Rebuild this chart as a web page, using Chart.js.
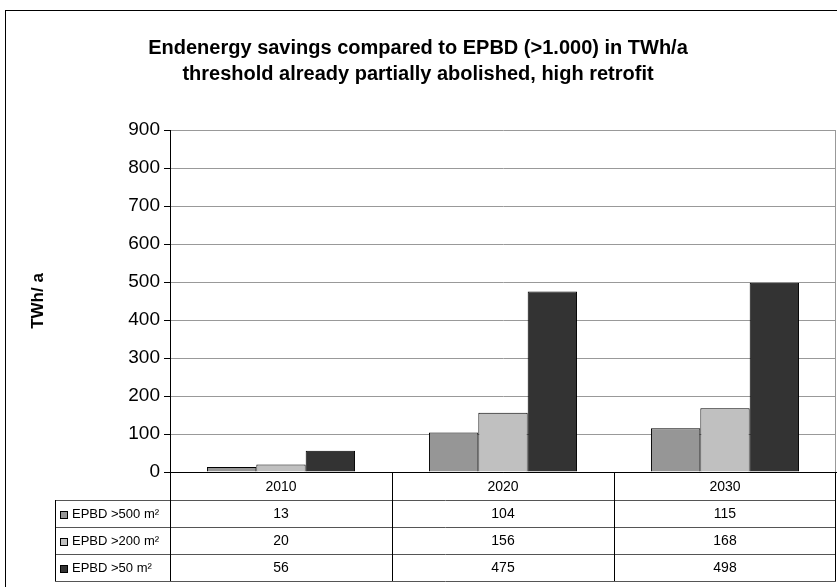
<!DOCTYPE html>
<html>
<head>
<meta charset="utf-8">
<script src="https://cdn.jsdelivr.net/npm/chart.js@4.4.1/dist/chart.umd.min.js"></script>
<style>
body { margin: 0; background: #fff; }
canvas { display: block; }
</style>
</head>
<body>
<canvas id="myChart" width="837" height="587"></canvas>
<script>
// Chart data
const categories = ['2010', '2020', '2030'];
const seriesLabels = ['EPBD >500 m²', 'EPBD >200 m²', 'EPBD >50 m²'];
const epbd500 = [13, 104, 115];
const epbd200 = [20, 156, 168];
const epbd50 = [56, 475, 498];
const seriesColors = ['#969696', '#c0c0c0', '#333333'];
const yMax = 900;
const yStep = 100;
const titleLines = [
    'Endenergy savings compared to EPBD (>1.000) in TWh/a',
    'threshold already partially abolished, high retrofit'
];

const seriesData = [epbd500, epbd200, epbd50];
const fontFamily = "'Liberation Sans', Arial, sans-serif";

// White background and outer frame
const framePlugin = {
    id: 'frame',
    beforeDraw(chart) {
        const ctx = chart.ctx;
        ctx.save();
        ctx.fillStyle = '#fff';
        ctx.fillRect(0, 0, chart.width, chart.height);
        ctx.strokeStyle = '#000';
        ctx.lineWidth = 1;
        ctx.strokeRect(5.5, 10.5, chart.width + 20, chart.height + 20);
        ctx.restore();
    }
};

// Data table under the plot, like the Excel one
const tablePlugin = {
    id: 'dataTable',
    afterDraw(chart) {
        const ctx = chart.ctx;
        const ca = chart.chartArea;
        const x = chart.scales.x;
        const colW = (ca.right - ca.left) / categories.length;
        const top = ca.bottom;
        const catH = 28;
        const rowH = 27;
        const legendLeft = 55;
        const bottom = top + catH + rowH * seriesData.length;

        function line(x1, y1, x2, y2) {
            ctx.beginPath();
            ctx.moveTo(x1, y1);
            ctx.lineTo(x2, y2);
            ctx.stroke();
        }

        ctx.save();
        ctx.lineWidth = 1;

        // plot area right border
        ctx.strokeStyle = '#999';
        line(Math.round(ca.right) - 0.5, ca.top, Math.round(ca.right) - 0.5, top);

        // horizontal lines
        ctx.strokeStyle = '#555';
        for (let r = 0; r <= seriesData.length; r++) {
            const y = Math.round(top + catH + r * rowH) + 0.5;
            line(legendLeft, y, ca.right, y);
        }

        // vertical lines
        ctx.strokeStyle = '#000';
        for (let c = 0; c <= categories.length; c++) {
            let xx = Math.round(x.getPixelForValue(0) - colW / 2 + c * colW) + 0.5;
            if (c === categories.length) xx -= 1;
            line(xx, top, xx, bottom);
        }
        line(legendLeft + 0.5, top + catH, legendLeft + 0.5, bottom);

        // values and legend keys
        ctx.fillStyle = '#000';
        ctx.textBaseline = 'middle';
        for (let r = 0; r < seriesData.length; r++) {
            const cy = top + catH + r * rowH + rowH / 2 + 1;
            ctx.font = '14px ' + fontFamily;
            ctx.textAlign = 'center';
            ctx.fillStyle = '#000';
            for (let c = 0; c < categories.length; c++) {
                ctx.fillText(String(seriesData[r][c]), x.getPixelForValue(c), cy);
            }
            // swatch
            ctx.fillStyle = seriesColors[r];
            ctx.fillRect(60, Math.round(cy - 4), 8, 8);
            ctx.strokeStyle = '#000';
            ctx.strokeRect(60.5, Math.round(cy - 4) + 0.5, 7, 7);
            // label
            ctx.fillStyle = '#000';
            ctx.textAlign = 'left';
            ctx.font = '13px ' + fontFamily;
            ctx.fillText(seriesLabels[r], 72, cy);
        }
        ctx.restore();
    }
};

const ctx = document.getElementById('myChart').getContext('2d');

const chart = new Chart(ctx, {
    type: 'bar',
    data: {
        labels: categories,
        datasets: seriesData.map((d, i) => ({
            label: seriesLabels[i],
            data: d,
            backgroundColor: seriesColors[i],
            borderColor: '#000',
            borderWidth: 1,
            categoryPercentage: 0.667,
            barPercentage: 1
        }))
    },
    options: {
        responsive: false,
        animation: false,
        layout: {
            padding: { left: 0, right: 1, top: 0, bottom: 0 }
        },
        plugins: {
            legend: { display: false },
            tooltip: { enabled: false },
            title: {
                display: true,
                text: titleLines,
                color: '#000',
                font: { family: fontFamily, size: 20, weight: 'bold', lineHeight: 1.3 },
                padding: { top: 35, bottom: 43 }
            }
        },
        scales: {
            x: {
                grid: { display: false, drawTicks: false },
                border: { display: true, color: '#000' },
                ticks: {
                    color: '#000',
                    padding: 7,
                    maxRotation: 0,
                    font: { family: fontFamily, size: 14 }
                },
                afterFit: function(scale) {
                    scale.height = 115;
                }
            },
            y: {
                min: 0,
                max: yMax,
                ticks: {
                    stepSize: yStep,
                    color: '#000',
                    padding: 4,
                    font: { family: fontFamily, size: 19 }
                },
                grid: {
                    color: (c) => c.tick && c.tick.value === 0 ? '#000' : '#999',
                    tickColor: '#000',
                    tickLength: 6
                },
                border: { display: true, color: '#000' },
                title: {
                    display: true,
                    text: 'TWh/ a',
                    color: '#000',
                    font: { family: fontFamily, size: 17, weight: 'bold' },
                    padding: { top: 28 }
                },
                afterFit: function(scale) {
                    scale.width = 170;
                }
            }
        }
    },
    plugins: [framePlugin, tablePlugin]
});
</script>
</body>
</html>
